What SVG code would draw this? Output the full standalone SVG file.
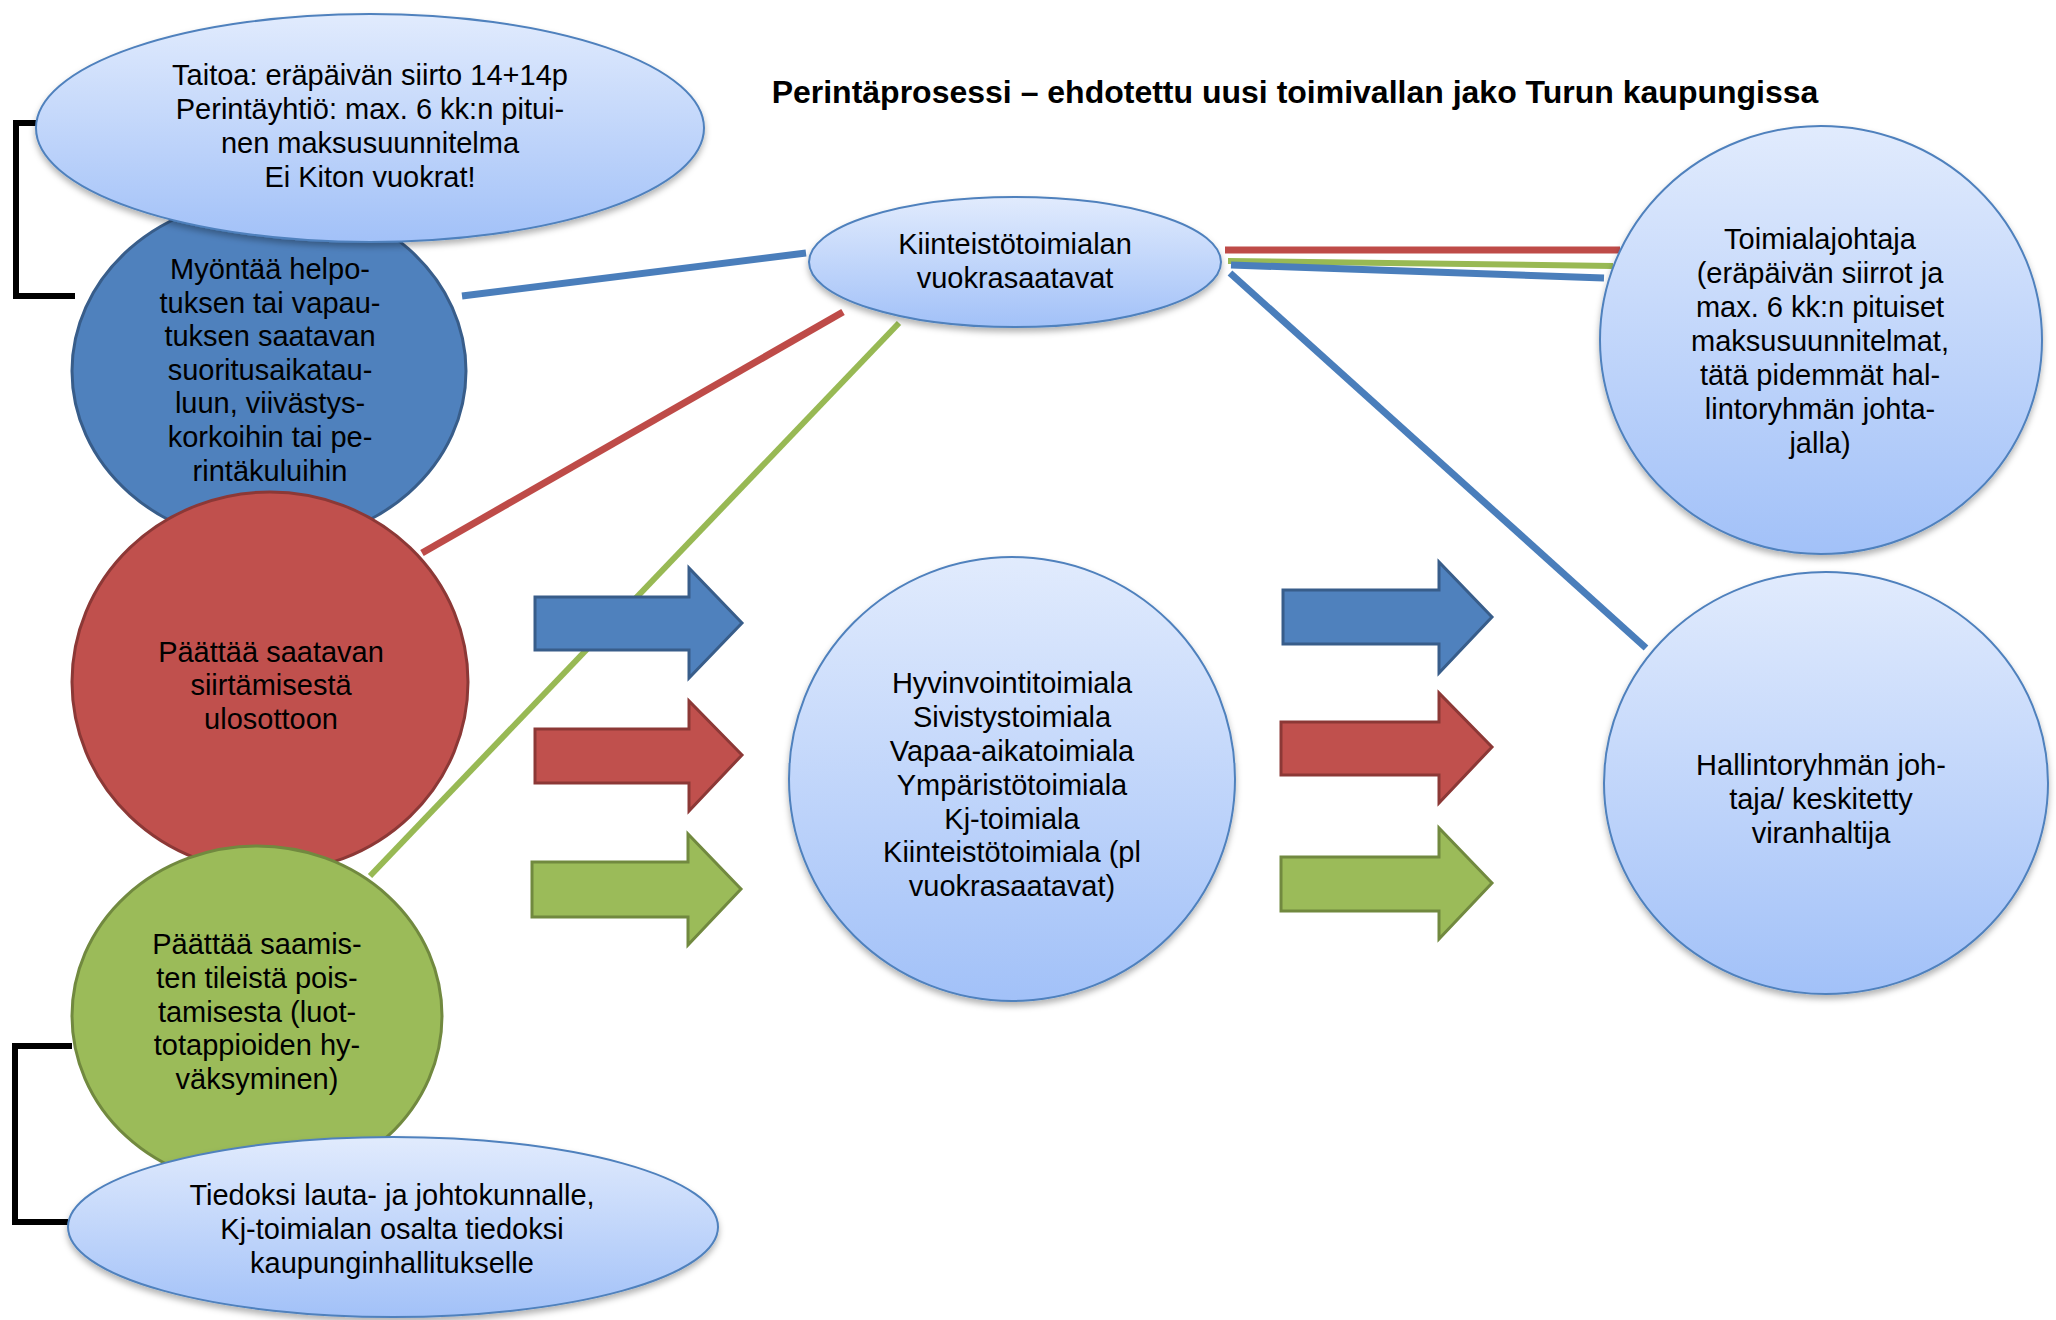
<svg xmlns="http://www.w3.org/2000/svg" width="2056" height="1320" viewBox="0 0 2056 1320">
<defs>
<linearGradient id="lb" x1="0" y1="0" x2="0" y2="1">
<stop offset="0" stop-color="#E1EBFD"/>
<stop offset="1" stop-color="#A2C1F8"/>
</linearGradient>
<filter id="sh" x="-10%" y="-10%" width="120%" height="125%">
<feDropShadow dx="0" dy="4" stdDeviation="3" flood-color="#000" flood-opacity="0.3"/>
</filter>
</defs>
<style>
.t{font-family:"Liberation Sans",Arial,sans-serif;font-size:29px;fill:#000;text-anchor:middle}
.title{font-family:"Liberation Sans",Arial,sans-serif;font-size:32px;font-weight:bold;fill:#000;text-anchor:middle}
.light{fill:url(#lb);stroke:#4F81BD;stroke-width:2;filter:url(#sh)}
.blue{fill:#4F81BD;stroke:#385D8A;stroke-width:3}
.red{fill:#C0504D;stroke:#8C3836;stroke-width:3}
.green{fill:#9BBB59;stroke:#71893F;stroke-width:3}
.cb{stroke:#4A7EBB;stroke-width:7;fill:none}
.cr{stroke:#BE4B48;stroke-width:7;fill:none}
.cg{stroke:#98B954;stroke-width:6;fill:none}
.br{stroke:#000;stroke-width:6;fill:none}
</style>
<rect width="2056" height="1320" fill="#fff"/>
<text class="title" x="1295" y="103">Perintäprosessi – ehdotettu uusi toimivallan jako Turun kaupungissa</text>

<g id="connectors">
<line class="cb" x1="462" y1="296" x2="806" y2="253"/>
<line class="cr" x1="422" y1="553" x2="843" y2="312"/>
<line class="cg" x1="370" y1="876" x2="899" y2="323"/>
<line class="cr" x1="1225" y1="250" x2="1620" y2="250"/>
<line class="cg" x1="1228" y1="261" x2="1613" y2="266"/>
<line class="cb" x1="1231" y1="265" x2="1604" y2="278"/>
<line class="cb" x1="1230" y1="273" x2="1646" y2="648"/>
<path class="br" d="M37,123 H16 V296 H75"/>
<path class="br" d="M72,1046 H15 V1222 H68"/>
</g>

<g id="node-myontaa">
<ellipse class="blue" cx="269" cy="371" rx="197" ry="173"/>
<text class="t" x="270"><tspan x="270" y="279">Myöntää helpo-</tspan><tspan x="270" y="313">tuksen tai vapau-</tspan><tspan x="270" y="346">tuksen saatavan</tspan><tspan x="270" y="380">suoritusaikatau-</tspan><tspan x="270" y="413">luun, viivästys-</tspan><tspan x="270" y="447">korkoihin tai pe-</tspan><tspan x="270" y="481">rintäkuluihin</tspan></text>
</g>

<g id="node-taitoa">
<ellipse class="light" cx="370" cy="128" rx="334" ry="114"/>
<text class="t"><tspan x="370" y="85">Taitoa: eräpäivän siirto 14+14p</tspan><tspan x="370" y="119">Perintäyhtiö: max. 6 kk:n pitui-</tspan><tspan x="370" y="153">nen maksusuunnitelma</tspan><tspan x="370" y="187">Ei Kiton vuokrat!</tspan></text>
</g>

<g id="node-paattaa-ulosotto">
<ellipse class="red" cx="270" cy="682" rx="198" ry="190"/>
<text class="t"><tspan x="271" y="662">Päättää saatavan</tspan><tspan x="271" y="695">siirtämisestä</tspan><tspan x="271" y="729">ulosottoon</tspan></text>
</g>

<g id="node-paattaa-poisto">
<ellipse class="green" cx="257" cy="1016" rx="185" ry="170"/>
<text class="t"><tspan x="257" y="954">Päättää saamis-</tspan><tspan x="257" y="988">ten tileistä pois-</tspan><tspan x="257" y="1022">tamisesta (luot-</tspan><tspan x="257" y="1055">totappioiden hy-</tspan><tspan x="257" y="1089">väksyminen)</tspan></text>
</g>

<g id="node-tiedoksi">
<ellipse class="light" cx="393" cy="1227" rx="325" ry="90"/>
<text class="t"><tspan x="392" y="1205">Tiedoksi lauta- ja johtokunnalle,</tspan><tspan x="392" y="1239">Kj-toimialan osalta tiedoksi</tspan><tspan x="392" y="1273">kaupunginhallitukselle</tspan></text>
</g>

<g id="node-kiinteisto">
<ellipse class="light" cx="1015" cy="262" rx="206" ry="65"/>
<text class="t"><tspan x="1015" y="254">Kiinteistötoimialan</tspan><tspan x="1015" y="288">vuokrasaatavat</tspan></text>
</g>

<g id="node-toimialajohtaja">
<ellipse class="light" cx="1821" cy="340" rx="221" ry="214"/>
<text class="t"><tspan x="1820" y="249">Toimialajohtaja</tspan><tspan x="1820" y="283">(eräpäivän siirrot ja</tspan><tspan x="1820" y="317">max. 6 kk:n pituiset</tspan><tspan x="1820" y="351">maksusuunnitelmat,</tspan><tspan x="1820" y="385">tätä pidemmät hal-</tspan><tspan x="1820" y="419">lintoryhmän johta-</tspan><tspan x="1820" y="453">jalla)</tspan></text>
</g>

<g id="node-toimialat">
<ellipse class="light" cx="1012" cy="779" rx="223" ry="222"/>
<text class="t"><tspan x="1012" y="693">Hyvinvointitoimiala</tspan><tspan x="1012" y="727">Sivistystoimiala</tspan><tspan x="1012" y="761">Vapaa-aikatoimiala</tspan><tspan x="1012" y="795">Ympäristötoimiala</tspan><tspan x="1012" y="829">Kj-toimiala</tspan><tspan x="1012" y="862">Kiinteistötoimiala (pl</tspan><tspan x="1012" y="896">vuokrasaatavat)</tspan></text>
</g>

<g id="node-hallintoryhma">
<ellipse class="light" cx="1826" cy="783" rx="222" ry="211"/>
<text class="t"><tspan x="1821" y="775">Hallintoryhmän joh-</tspan><tspan x="1821" y="809">taja/ keskitetty</tspan><tspan x="1821" y="843">viranhaltija</tspan></text>
</g>

<g id="arrows">
<polygon class="blue" points="535,597 689,597 689,568 742,623 689,678 689,650 535,650"/>
<polygon class="red" points="535,729 689,729 689,701 742,755 689,811 689,783 535,783"/>
<polygon class="green" points="532,862 688,862 688,834 741,889 688,945 688,917 532,917"/>
<polygon class="blue" points="1283,590 1439,590 1439,562 1492,617 1439,673 1439,644 1283,644"/>
<polygon class="red" points="1281,722 1439,722 1439,693 1492,747 1439,803 1439,775 1281,775"/>
<polygon class="green" points="1281,857 1439,857 1439,828 1492,883 1439,939 1439,911 1281,911"/>
</g>
</svg>
